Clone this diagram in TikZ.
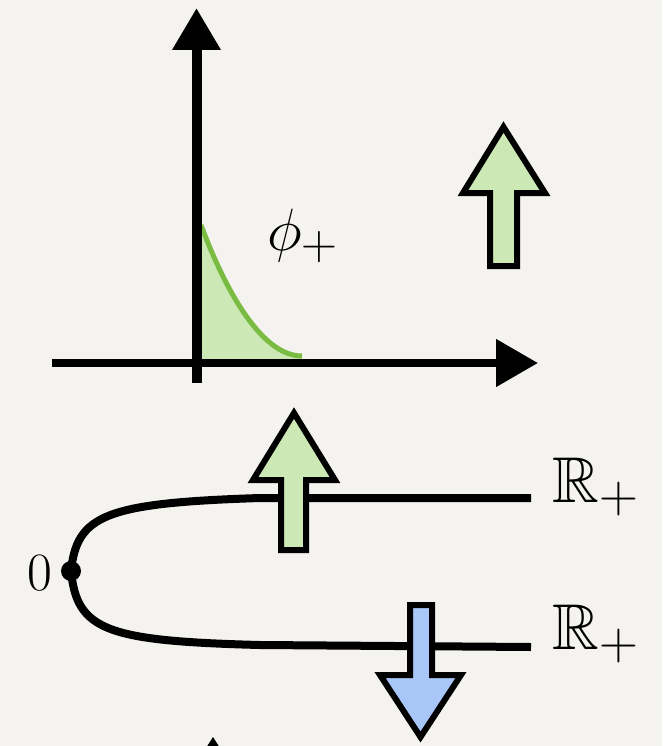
\documentclass[tikz,border=0pt]{standalone}
\usepackage{amssymb}
\usetikzlibrary{arrows.meta}
\definecolor{bgpaper}{RGB}{245,243,239}
\definecolor{gfill}{RGB}{204,232,181}
\definecolor{gline}{RGB}{122,188,66}
\definecolor{bfill}{RGB}{168,198,248}
\tikzset{
  axis/.style={-{Triangle[length=42pt,width=46pt]}},
  branch/.style={line width=8pt},
  fatarrow/.style={draw=black, line width=6pt, line join=miter},
  lbl/.style={inner sep=0pt, anchor=center}
}
\begin{document}
\begin{tikzpicture}[x=1pt,y=-1pt]
\fill[bgpaper] (0,0) rectangle (662,746);
\useasboundingbox (0,0) rectangle (662,746);
% top plot
\coordinate (ybot) at (196.5,383);
\coordinate (ytop) at (196.5,8);
\coordinate (xl) at (52,363);
\coordinate (xr) at (538,363);
\coordinate (cs) at (201,225);
\coordinate (ce) at (302,356);
\fill[gfill] (cs) .. controls (226,292) and (262,356) .. (ce) -- (302,362) -- (200,362) -- cycle;
\draw[gline, line width=5pt] (cs) .. controls (226,292) and (262,356) .. (ce);
\draw[axis, line width=10pt] (ybot) -- (ytop);
\draw[axis, line width=8pt] (xl) -- (xr);
\node[lbl, scale=2.4] (phi) at (303,236) {\Huge$\phi_+$};
\draw[fatarrow, fill=gfill] (490,266) -- (490,193) -- (463,193) -- (503.5,127) -- (545,193) -- (517,193) -- (517,266) -- cycle;
% bottom branches
\coordinate (zero) at (71,571);
\coordinate (r1) at (531,498);
\coordinate (r2) at (531,647);
\draw[branch] (zero) .. controls (77,515) and (105,503) .. (260,498) -- (r1);
\draw[branch] (zero) .. controls (77,630) and (105,641) .. (260,645) -- (r2);
\fill (zero) circle (10pt);
\node[lbl, scale=2.17] (zlab) at (40,573) {\Huge$0$};
\node[lbl, scale=2.6] (rp1) at (596,487) {\Huge$\mathbb{R}_+$};
\node[lbl, scale=2.6] (rp2) at (596,634) {\Huge$\mathbb{R}_+$};
\draw[fatarrow, fill=gfill] (281,550) -- (281,480) -- (253,480) -- (294,413) -- (335,480) -- (306,480) -- (306,550) -- cycle;
\draw[fatarrow, fill=bfill] (410,605) -- (410,675) -- (380,675) -- (420.5,737) -- (461,675) -- (432,675) -- (432,605) -- cycle;
% cut-off arrow tip at the bottom
\fill (213,737) -- (220,748) -- (206,748) -- cycle;
\end{tikzpicture}
\end{document}
